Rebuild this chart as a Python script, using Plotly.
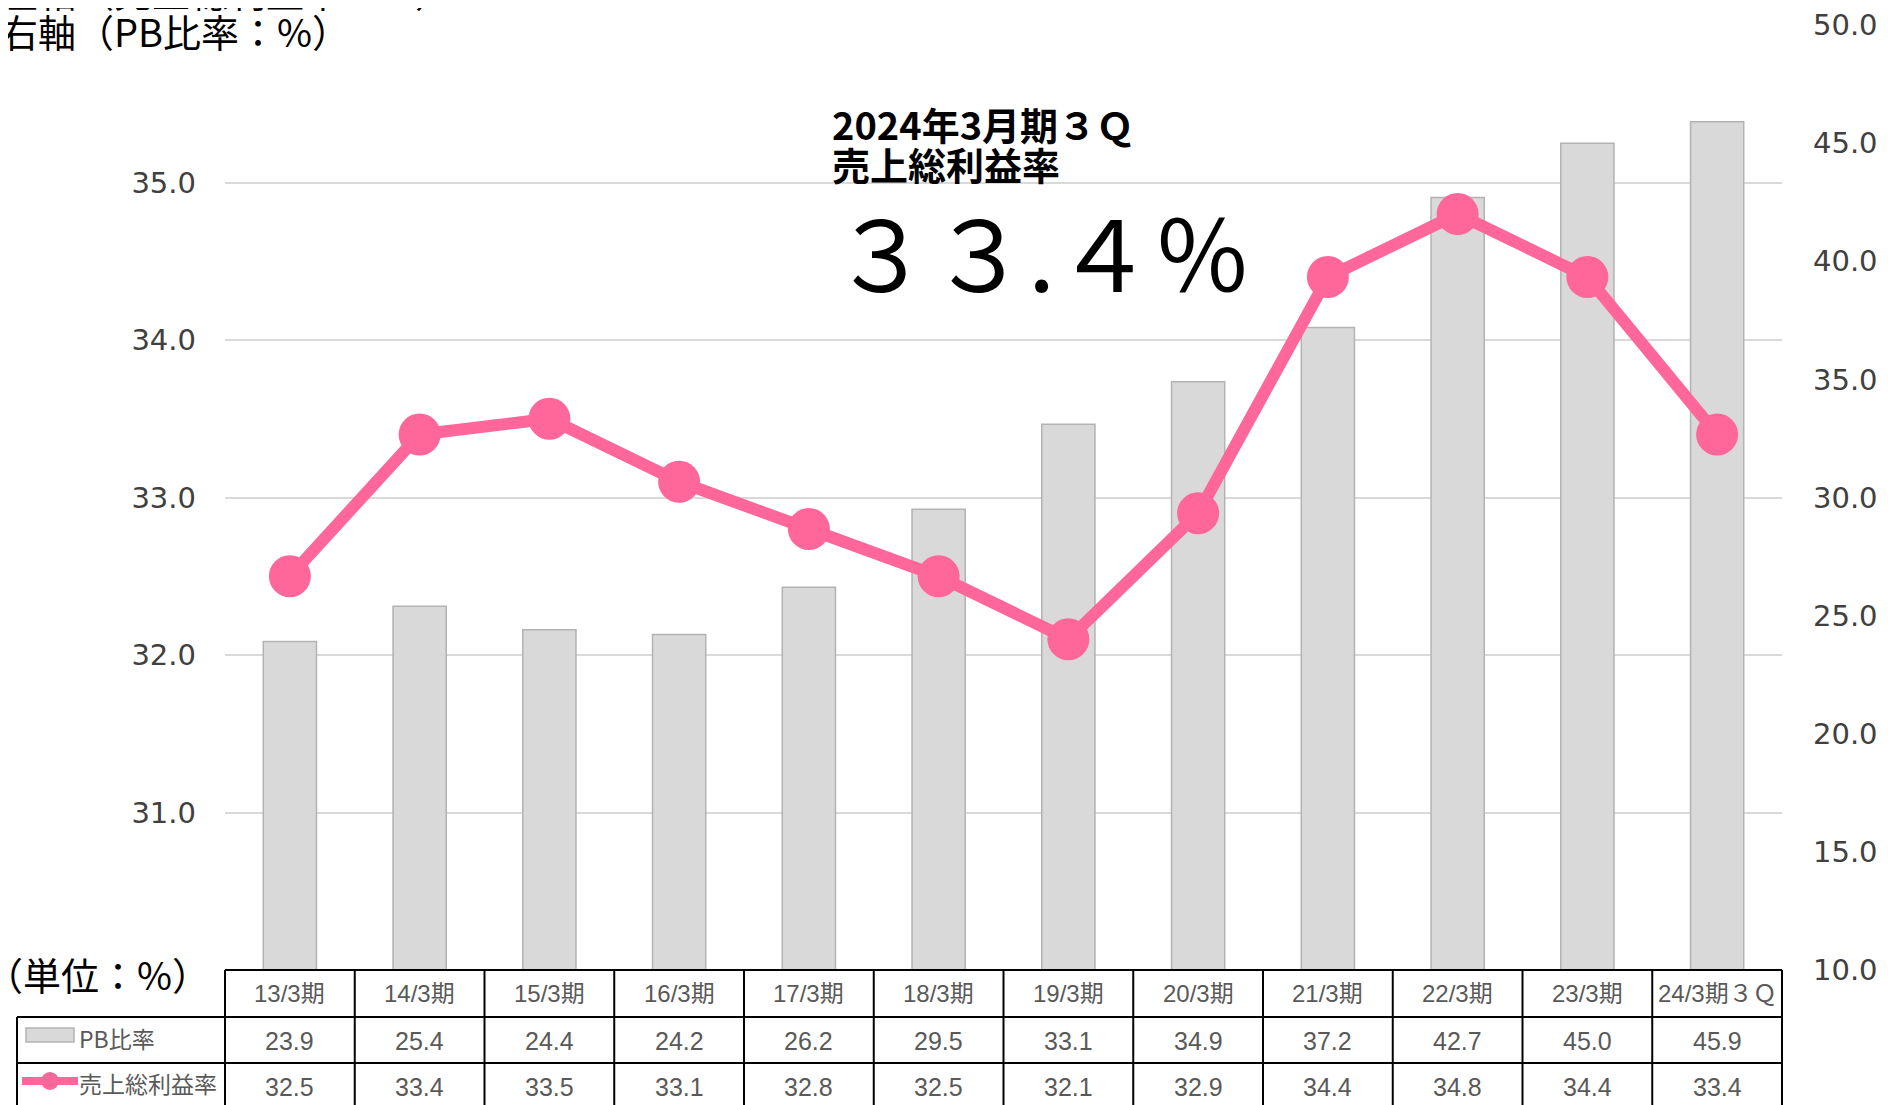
import plotly.graph_objects as go

# ---------------- data ----------------
categories = ["13/3期", "14/3期", "15/3期", "16/3期", "17/3期", "18/3期",
              "19/3期", "20/3期", "21/3期", "22/3期", "23/3期", "24/3期３Ｑ"]
pb_ratio = [23.9, 25.4, 24.4, 24.2, 26.2, 29.5, 33.1, 34.9, 37.2, 42.7, 45.0, 45.9]
gross_margin = [32.5, 33.4, 33.5, 33.1, 32.8, 32.5, 32.1, 32.9, 34.4, 34.8, 34.4, 33.4]
left_ticks = [31, 32, 33, 34, 35, 36]
right_ticks = [10, 15, 20, 25, 30, 35, 40, 45, 50]
series_names = ["PB比率", "売上総利益率"]
unit_label = "（単位：%）"
axis_note_left = "左軸（売上総利益率：%）"
axis_note_right = "右軸（PB比率：%）"
callout_title = ["2024年3月期３Ｑ", "売上総利益率"]
callout_value = "３３.４％"

# ---------------- layout geometry (page pixel coordinates) ----------------
PAGE_OFF = 8                      # default body margin of the html page
W_FIG, H_FIG = 1888 - PAGE_OFF, 1105 - PAGE_OFF
L, T = 225, 25                    # plot area top-left on the page
PW, PH = 1557, 945                # plot area size
X_RANGE = [-0.5, len(categories) - 0.5]


def px(x):
    return (x - L) / PW


def py(y):
    return (T + PH - y) / PH


PINK = "#ff6699"
BAR_FILL = "#d9d9d9"
BAR_EDGE = "#b3b3b3"
GRID = "#d9d9d9"
TXT_GRAY = "#595959"
CJK = "Noto Sans CJK JP"
TABLE_FONT = "Liberation Sans, Noto Sans CJK JP"

fig = go.Figure()
fig.add_trace(go.Bar(
    x=categories, y=pb_ratio, yaxis="y", name=series_names[0], width=0.41,
    marker=dict(color=BAR_FILL, line=dict(color=BAR_EDGE, width=1.5)),
))
fig.add_trace(go.Scatter(
    x=categories, y=gross_margin, yaxis="y2", name=series_names[1],
    mode="lines+markers", line=dict(color=PINK, width=12),
    marker=dict(size=42, color=PINK),
))

shapes = []
annotations = []


def note(x, y, text, size, color="black", xanchor="left", xref="paper", **kw):
    annotations.append(dict(x=x, y=y, xref=xref, yref="paper", text=text,
                            xanchor=xanchor, yanchor="middle", showarrow=False,
                            font=dict(family=kw.pop("family", CJK), size=size, color=color),
                            **kw))


# table borders
LINE = dict(color="black", width=2)
row_y = [970, 1017, 1063, 1112]
shapes.append(dict(type="line", xref="paper", yref="paper", x0=0, x1=1,
                   y0=py(row_y[0]), y1=py(row_y[0]), line=LINE, layer="above"))
for yy in row_y[1:]:
    shapes.append(dict(type="line", xref="paper", yref="paper", x0=px(17), x1=1,
                       y0=py(yy), y1=py(yy), line=LINE, layer="above"))
n = len(categories)
for i in range(n + 1):
    xb = (i - 0.5 - X_RANGE[0]) / (X_RANGE[1] - X_RANGE[0])
    shapes.append(dict(type="line", xref="paper", yref="paper", x0=xb, x1=xb,
                       y0=py(row_y[0]), y1=py(row_y[-1]), line=LINE, layer="above"))
shapes.append(dict(type="line", xref="paper", yref="paper", x0=px(17), x1=px(17),
                   y0=py(row_y[1]), y1=py(row_y[-1]), line=LINE, layer="above"))

# table text
for c, v1, v2 in zip(categories, pb_ratio, gross_margin):
    note(c, py(994), c, 24, TXT_GRAY, xanchor="center", xref="x", family=TABLE_FONT)
    note(c, py(1041), f"{v1:.1f}", 25, TXT_GRAY, xanchor="center", xref="x", family=TABLE_FONT)
    note(c, py(1087), f"{v2:.1f}", 25, TXT_GRAY, xanchor="center", xref="x", family=TABLE_FONT)

# legend icons in table
shapes.append(dict(type="rect", xref="paper", yref="paper", x0=px(26), x1=px(74),
                   y0=py(1042), y1=py(1028), fillcolor=BAR_FILL,
                   line=dict(color=BAR_EDGE, width=1.5), layer="above"))
shapes.append(dict(type="line", xref="paper", yref="paper", x0=px(22), x1=px(78),
                   y0=py(1081), y1=py(1081), line=dict(color=PINK, width=8), layer="above"))
shapes.append(dict(type="circle", xref="paper", yref="paper", x0=px(41), x1=px(59),
                   y0=py(1090), y1=py(1072), fillcolor=PINK, line=dict(width=0), layer="above"))
note(px(77), py(1038), series_names[0], 23, TXT_GRAY)
note(px(77), py(1083), series_names[1], 23, TXT_GRAY)

# unit label
note(px(-17), py(973), unit_label, 38)

# axis notes (top-left); white patch hides the top gridline behind the note
shapes.append(dict(type="rect", xref="paper", yref="paper", x0=px(225), x1=px(348),
                   y0=py(31), y1=py(19), fillcolor="white", line=dict(width=0),
                   layer="between"))
note(px(-2), py(-10), axis_note_left, 38)
note(px(-2), py(31), axis_note_right, 38)

# callout box
shapes.append(dict(type="rect", xref="paper", yref="paper", x0=px(815), x1=px(1279),
                   y0=py(300), y1=py(92), fillcolor="white", line=dict(width=0),
                   layer="between"))
note(px(830), py(123), f"<b>{callout_title[0]}</b>", 38)
note(px(830), py(164), f"<b>{callout_title[1]}</b>", 38)
note(px(830), py(249), callout_value, 98)

TICKFONT = dict(family="DejaVu Sans", size=29, color="#404040")
fig.update_layout(
    width=W_FIG, height=H_FIG,
    margin=dict(l=L - PAGE_OFF, r=W_FIG - (L - PAGE_OFF) - PW,
                t=T - PAGE_OFF, b=H_FIG - (T - PAGE_OFF) - PH, pad=0, autoexpand=False),
    paper_bgcolor="white", plot_bgcolor="white",
    showlegend=False, bargap=0.59,
    xaxis=dict(type="category", range=X_RANGE, showticklabels=False, showgrid=False,
               zeroline=False, showline=False, ticks="", automargin=False),
    yaxis=dict(side="right", range=[right_ticks[0], right_ticks[-1]], tickvals=right_ticks,
               tickformat=".1f", showgrid=False, zeroline=False, showline=False, ticks="",
               tickfont=TICKFONT, ticklabelstandoff=30, automargin=False),
    yaxis2=dict(overlaying="y", side="left", range=[30, 36], tickvals=left_ticks,
                ticktext=[f"{v:.1f}" if v != left_ticks[-1] else "" for v in left_ticks],
                showgrid=True, gridcolor=GRID, gridwidth=2, zeroline=False, showline=False,
                ticks="", tickfont=TICKFONT, ticklabelstandoff=28, automargin=False),
    shapes=shapes, annotations=annotations,
)

fig.write_html("out.html")
